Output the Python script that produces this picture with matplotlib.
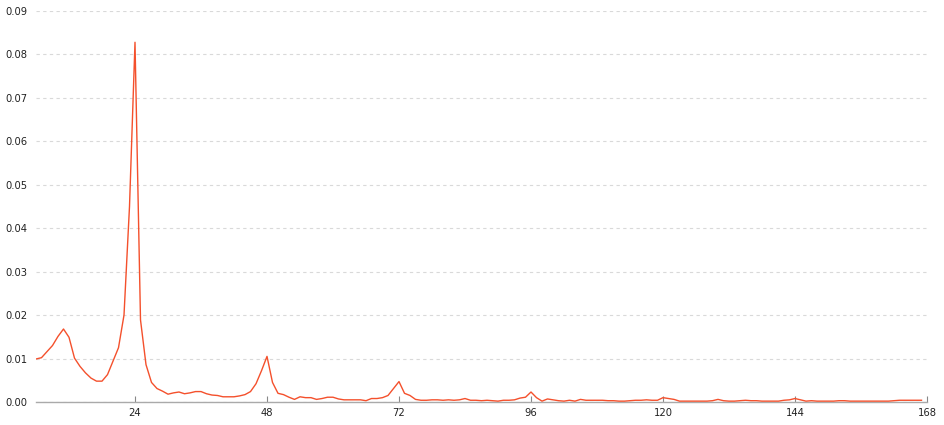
import matplotlib
matplotlib.use("Agg")
from matplotlib import pyplot as plt

# period (hours) and periodogram power
period = list(range(6, 168))
power = [
    0.0099, 0.0102, 0.0116, 0.0130, 0.0151, 0.0168, 0.0149, 0.0101, 0.0082, 0.0067,   # 6-15
    0.0055, 0.0048, 0.0048, 0.0063, 0.0094, 0.0125, 0.0200, 0.0450, 0.0828, 0.0189,   # 16-25
    0.0086, 0.0045, 0.0031, 0.0025, 0.0018, 0.0021, 0.0023, 0.0019, 0.0021, 0.0024,   # 26-35
    0.0024, 0.0019, 0.0016, 0.0015, 0.0012, 0.0012, 0.0012, 0.0014, 0.0017, 0.0024,   # 36-45
    0.0042, 0.0072, 0.0105, 0.0045, 0.0020, 0.0017, 0.0011, 0.0006, 0.0012, 0.0010,   # 46-55
    0.0010, 0.0006, 0.0008, 0.0011, 0.0011, 0.0007, 0.0005, 0.0005, 0.0005, 0.0005,   # 56-65
    0.0003, 0.0008, 0.0008, 0.0010, 0.0015, 0.0031, 0.0047, 0.0020, 0.0015, 0.0006,   # 66-75
    0.0004, 0.0004, 0.0005, 0.0005, 0.0004, 0.0005, 0.0004, 0.0005, 0.0008, 0.0004,   # 76-85
    0.0004, 0.0003, 0.0004, 0.0003, 0.0002, 0.0004, 0.0004, 0.0005, 0.0009, 0.0011,   # 86-95
    0.0023, 0.0010, 0.0002, 0.0007, 0.0005, 0.0003, 0.0002, 0.0004, 0.0002, 0.0006,   # 96-105
    0.0004, 0.0004, 0.0004, 0.0004, 0.0003, 0.0003, 0.0002, 0.0002, 0.0003, 0.0004,   # 106-115
    0.0004, 0.0005, 0.0004, 0.0004, 0.0010, 0.0008, 0.0006, 0.0002, 0.0002, 0.0002,   # 116-125
    0.0002, 0.0002, 0.0002, 0.0003, 0.0006, 0.0003, 0.0002, 0.0002, 0.0003, 0.0004,   # 126-135
    0.0003, 0.0003, 0.0002, 0.0002, 0.0002, 0.0002, 0.0004, 0.0005, 0.0008, 0.0005,   # 136-145
    0.0002, 0.0003, 0.0002, 0.0002, 0.0002, 0.0002, 0.0003, 0.0003, 0.0002, 0.0002,   # 146-155
    0.0002, 0.0002, 0.0002, 0.0002, 0.0002, 0.0002, 0.0003, 0.0004, 0.0004, 0.0004,   # 156-165
    0.0004, 0.0004,                                                                   # 166-167
]
xticks = [24, 48, 72, 96, 120, 144, 168]
yticks = [0.00, 0.01, 0.02, 0.03, 0.04, 0.05, 0.06, 0.07, 0.08, 0.09]

plt.rcParams['font.family'] = ['DejaVu Sans']

fig = plt.figure(figsize=(9.45, 4.25), dpi=100)
ax = fig.add_axes([36 / 945, 23 / 425, (927 - 36) / 945, (402 - 11) / 425])

ax.plot(period, power, color='#f4502c', linewidth=1.0, zorder=3)

ax.set_xlim(6, 168)
ax.set_ylim(0, 0.09)
ax.set_xticks(xticks)
ax.set_xticklabels([str(t) for t in xticks])
ax.set_yticks(yticks)
ax.set_yticklabels([f"{t:.2f}" for t in yticks])

ax.grid(axis='y', linestyle=(0, (3, 3)), color='#d9d9d9', linewidth=0.8)
ax.set_axisbelow(True)

for side in ['top', 'right', 'left']:
    ax.spines[side].set_visible(False)
ax.spines['bottom'].set_color('#aaaaaa')
ax.spines['bottom'].set_linewidth(1.0)

ax.tick_params(axis='x', direction='in', length=4, color='#888888',
               labelsize=7.2, labelcolor='#222222', pad=4)
ax.tick_params(axis='y', length=0, labelsize=7.2, labelcolor='#222222', pad=6)

fig.savefig("out.png", dpi=100)
